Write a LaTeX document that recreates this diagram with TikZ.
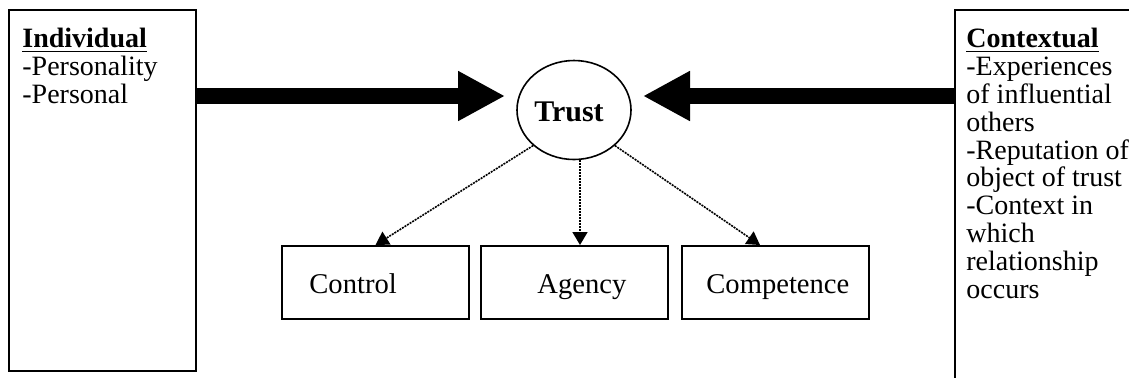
\documentclass[tikz,border=0pt]{standalone}
\usepackage{fontspec}
\setmainfont{Liberation Serif}
\usetikzlibrary{arrows.meta,positioning,shapes.geometric}
\tikzset{
  bigarrow/.style={-{Triangle[length=23.5pt,width=23.5pt]},line width=8pt},
  dotarrow/.style={-{Triangle[length=6.5pt,width=7.5pt]},line width=0.8pt,
    dash pattern=on 1pt off 0.5pt},
  sidebox/.style={draw,line width=1pt,anchor=north west,inner sep=0pt},
  sidetext/.style={anchor=north west,align=left,inner sep=0pt,
    font=\fontsize{14}{13.9}\selectfont},
  factor/.style={draw,line width=1pt,minimum width=93.5pt,minimum height=36.5pt,
    inner sep=0pt},
  factortext/.style={anchor=base west,inner sep=0pt,font=\fontsize{14.3}{14}\selectfont},
  trustnode/.style={ellipse,draw,line width=0.8pt,minimum width=57pt,
    minimum height=49.5pt,inner sep=0pt}
}
\begin{document}
\begin{tikzpicture}[x=0.5pt,y=-0.5pt]
  \useasboundingbox (0,0) rectangle (1129,377);
  \clip (0,0) rectangle (1129,377);
  \node[sidebox,minimum width=93.5pt,minimum height=180.5pt] (indiv) at (8,9) {};
  \node[sidetext] (indivtxt) at (22,28)
    {\textbf{\underline{Individual}}\\-Personality\\-Personal};
  \node[sidebox,minimum width=150pt,minimum height=200pt] (context) at (954,9) {};
  \node[sidetext] (contexttxt) at (966,28)
    {\textbf{\underline{Contextual}}\\-Experiences\\of influential\\others\\
     -Reputation of\\object of trust\\-Context in\\which\\relationship\\occurs};
  \node[trustnode] (trust) at (574,110) {};
  \node[anchor=base,inner sep=0pt,font=\bfseries\fontsize{15}{15}\selectfont]
    (trusttxt) at (569,121) {Trust};
  \node[factor] (ctrl) at (375.5,282.5) {};
  \node[factor] (agency) at (574,282.5) {};
  \node[factor] (comp) at (775,282.5) {};
  \node[factortext] (ctrltxt) at (309,293) {Control};
  \node[factortext] (agencytxt) at (537,293) {Agency};
  \node[factortext] (comptxt) at (706,293) {Competence};
  \coordinate (lefttip) at (505,96);
  \coordinate (righttip) at (643,96);
  \draw[bigarrow] (lefttip -| indiv.east) -- (lefttip);
  \draw[bigarrow] (righttip -| context.west) -- (righttip);
  \draw[dotarrow] (trust.south west) -- (ctrl.north);
  \draw[dotarrow] ([xshift=3pt]trust.south) -- ([xshift=3pt]agency.north);
  \draw[dotarrow] (trust.south east) -- ([xshift=-7.5pt]comp.north);
\end{tikzpicture}
\end{document}
